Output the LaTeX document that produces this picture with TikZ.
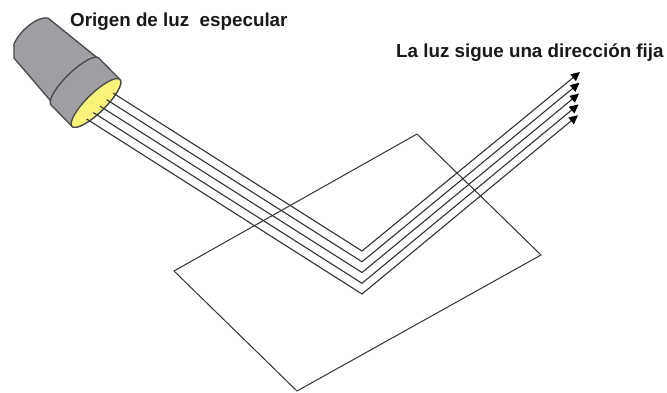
\documentclass[tikz,border=0pt]{standalone}
\usepackage{fontspec}
\setmainfont{Liberation Sans}
\usetikzlibrary{arrows.meta}
\definecolor{lampgray}{RGB}{160,157,163}
\definecolor{lampedge}{RGB}{72,72,74}
\definecolor{lenscolor}{RGB}{248,244,122}
\definecolor{raycolor}{RGB}{50,50,50}
\begin{document}
\begin{tikzpicture}[x=1pt,y=1pt,
  label text/.style={font=\fontsize{18.8}{22}\selectfont\bfseries, inner sep=0pt, anchor=base west, text=black!90},
  ray/.style={draw=raycolor, line width=1.1pt, line join=miter},
  ray tip/.style={-{Triangle[length=9pt,width=8.5pt,fill=black,color=black]}},
  plane edge/.style={draw=raycolor, line width=1pt, line join=miter},
  lamp part/.style={fill=lampgray, draw=lampedge, line width=1.3pt, line join=round}]
\useasboundingbox (0,0) rectangle (667,-392);

% reflecting surface
\coordinate (PL) at (174,-271);
\coordinate (PT) at (417,-134);
\coordinate (PR) at (541,-255);
\coordinate (PB) at (297,-391);
\draw[plane edge] (PL) -- (PT) -- (PR) -- (PB) -- cycle;

% lamp: rear body
\path[lamp part] (100,-60) -- (48,-18) .. controls (38,-16) and (20,-30) .. (14,-44)
  -- (14,-58) -- (55,-106) -- cycle;

% lamp: front collar and lens
\begin{scope}[shift={(96,-103)}, rotate=44.4]
  \path[lamp part] (-33.5,0) arc[start angle=180, end angle=360, x radius=33.5, y radius=9.5]
    -- (33.5,30) arc[start angle=0, end angle=180, x radius=33.5, y radius=9.5] -- cycle;
  \path[fill=lenscolor, draw=lampedge, line width=1.3pt] (0,0) ellipse[x radius=33.5, y radius=9.5];
  \foreach \i in {0,...,4} \coordinate (S\i) at ({19.2-9.27*\i}, -5);
\end{scope}

% reflection points and outgoing ends
\foreach \i in {0,...,4} {
  \coordinate (V\i) at (362,{-251-10.75*\i});
  \coordinate (A\i) at ({580-0.5*\i},{-72-10.8*\i});
}

% light rays
\foreach \i in {0,...,4}
  \draw[ray, ray tip] (S\i) -- (V\i) -- (A\i);

% labels
\node[label text] (src) at (70,-26.5) {Origen de luz\ \ especular};
\node[label text] (dir) at (396,-57.3) {La luz sigue una dirección fija};
\end{tikzpicture}
\end{document}
